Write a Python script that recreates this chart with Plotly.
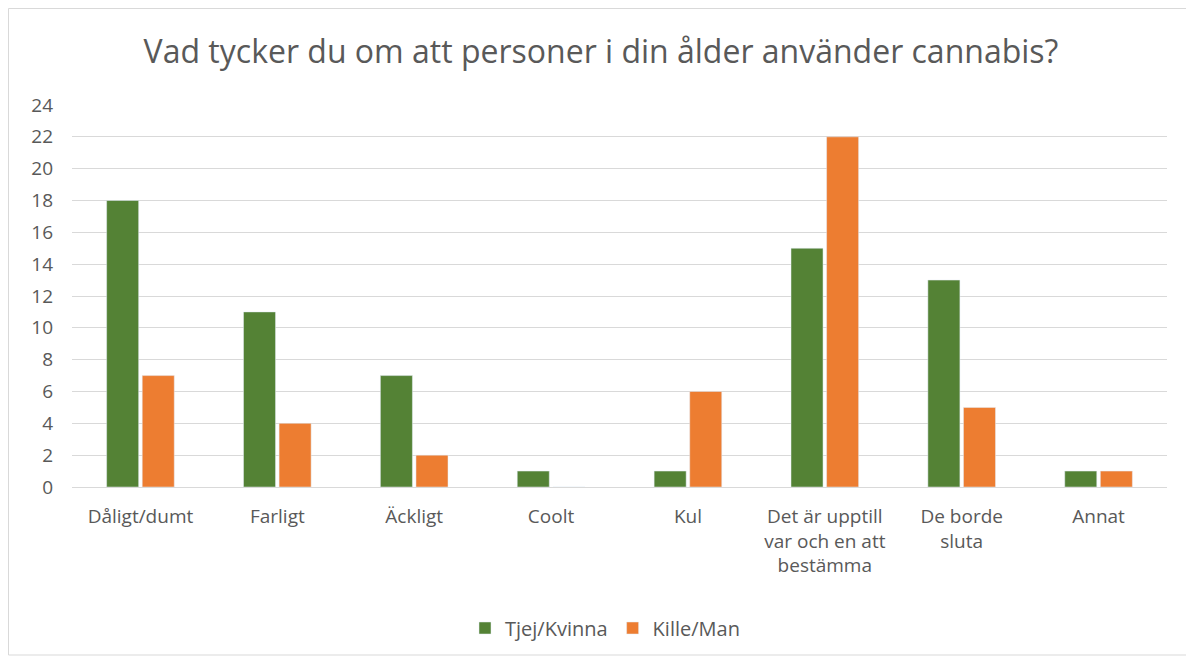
import plotly.graph_objects as go

categories = ["Dåligt/dumt", "Farligt", "Äckligt", "Coolt", "Kul",
              "Det är upptill<br>var och en att<br>bestämma", "De borde<br>sluta", "Annat"]
tjej = [18, 11, 7, 1, 1, 15, 13, 1]
kille = [7, 4, 2, 0, 6, 22, 5, 1]
y_ticks = list(range(0, 25, 2))

FONT = "Open Sans"
GREY = "#595959"

fig = go.Figure()
fig.add_trace(go.Bar(name="Tjej/Kvinna", x=categories, y=tjej, marker_color="#548235"))
fig.add_trace(go.Bar(name="Kille/Man", x=categories, y=kille, marker_color="#ED7D31"))

# page body has an 8px margin, so the figure is drawn 8px lower/right
W, H = 1186, 651
L, R, T, B = 64, 27, 97, 172
pw, ph = W - L - R, H - T - B

fig.update_layout(
    width=W, height=H,
    margin=dict(l=L, r=R, t=T, b=B),
    paper_bgcolor="white", plot_bgcolor="white",
    barmode="group", bargap=0.48, bargroupgap=0.1,
    title=dict(text="Vad tycker du om att personer i din ålder använder cannabis?",
               x=0.5, xanchor="center", y=1 - 44 / H, yanchor="middle",
               font=dict(family=FONT, size=32, color=GREY)),
    font=dict(family=FONT, size=19, color=GREY),
    legend=dict(orientation="h", x=(597 - L) / pw, xanchor="center", y=-(620 - (H - B)) / ph,
                yanchor="middle", font=dict(family=FONT, size=20, color=GREY), traceorder="normal"),
    xaxis=dict(showgrid=False, showline=True, linecolor="#d9d9d9", ticks="",
               tickfont=dict(size=19, color=GREY), ticklabelstandoff=12),
    yaxis=dict(range=[0, 24], tickvals=y_ticks, showgrid=True, gridcolor="#d9d9d9",
               zeroline=False, showline=False, ticks="", ticklabelstandoff=18,
               tickfont=dict(size=19, color=GREY)),
    shapes=[dict(type="rect", xref="paper", yref="paper",
                 x0=(0.5 - L) / pw, x1=(W - 4 - L) / pw,
                 y0=(H - B - (H - 4)) / ph, y1=(H - B - 0.5) / ph,
                 line=dict(color="#d9d9d9", width=1), layer="below")],
)
fig.write_html("out.html")
